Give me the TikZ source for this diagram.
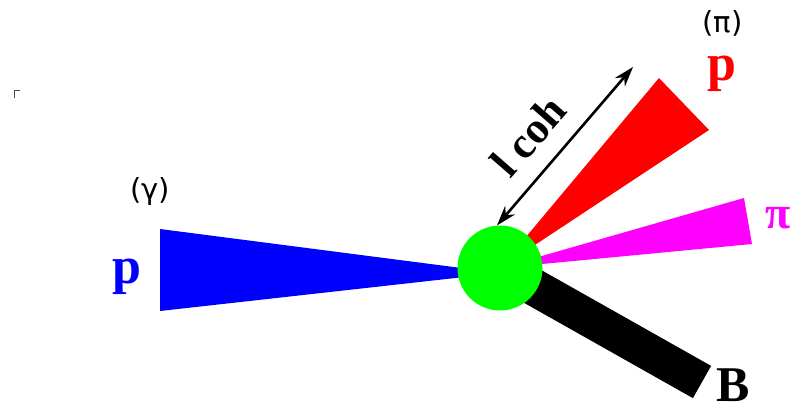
\documentclass[tikz,border=0pt]{standalone}
\usepackage{fontspec}
\setmainfont{Liberation Serif}
\newfontfamily\dejavu{DejaVu Sans}
\usepackage{xcolor}
\definecolor{jetblue}{RGB}{0, 0, 255}
\definecolor{jetred}{RGB}{255, 0, 0}
\definecolor{jetpink}{RGB}{255, 0, 255}
\definecolor{blobgreen}{RGB}{0, 255, 0}
\usetikzlibrary{arrows.meta,positioning}

\begin{document}
\begin{tikzpicture}[
  x=1pt, y=-1pt,
  blob/.style={circle, fill=blobgreen, minimum size=85pt, inner sep=0pt},
  bigtext/.style={font=\bfseries\fontsize{52}{56}\selectfont, inner sep=0pt},
  smalltext/.style={font=\dejavu\fontsize{29}{32}\selectfont, inner sep=0pt},
  arrowstyle/.style={{Stealth[length=20pt, width=13pt]}-{Stealth[length=20pt, width=13pt]}, line width=2.6pt}
]
\useasboundingbox (0,0) rectangle (790,405);

\coordinate (ctr) at (500,268);

% jets
\fill[jetblue] (160,229) -- (160,311) -- (500,273) -- cycle;
\fill[jetred] (659,78) -- (709,130) -- (ctr) -- cycle;
\fill[jetpink] (744,198) -- (752,244) -- (ctr) -- cycle;
\draw[line width=37pt] (ctr) -- (702,382);

\node[blob] (vtx) at (ctr) {};

% coherence length
\coordinate (arrtip) at (633,67);
\draw[arrowstyle] (vtx.94) -- (arrtip);
\node[bigtext, font=\bfseries\fontsize{44}{48}\selectfont, rotate=49] (lcoh) at (528,136) {l coh};

% labels
\node[bigtext, text=jetblue] (pin) at (127,277) {p};
\node[smalltext] (gam) at (150,191.5) {(γ)};
\node[smalltext] (pio) at (722.5,23.5) {(π)};
\node[bigtext, text=jetred] (pout) at (722,74) {p};
\node[bigtext, font=\bfseries\fontsize{46}{50}\selectfont, text=jetpink, anchor=base west] (pi) at (765,228) {π};
\node[bigtext, font=\bfseries\fontsize{50}{54}\selectfont, anchor=base] (bm) at (733,401) {B};

\draw[line width=1pt, black!70] (14,98) -- (14,90) -- (20,90);
\end{tikzpicture}
\end{document}
